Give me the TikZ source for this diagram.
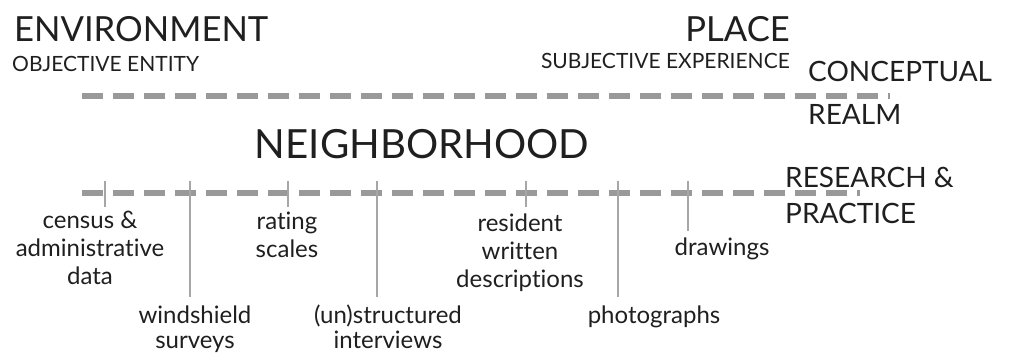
\documentclass[tikz,border=0pt]{standalone}
\usepackage{fontspec}
\setmainfont{Lato}[Ligatures=NoCommon]
\begin{document}
\begin{tikzpicture}[x=1pt,y=-1pt,
  txt/.style={inner sep=0pt,text=black!88},
  lbl/.style={txt,anchor=base,align=center,font=\fontsize{24}{28}\selectfont},
  lowlbl/.style={lbl,font=\fontsize{24}{25}\selectfont},
  realm/.style={txt,anchor=base west,align=left,font=\fontsize{28}{36}\selectfont},
  dashline/.style={draw=black!40,line width=5.5pt,dash pattern=on 21pt off 10pt},
  tick/.style={draw=black!35,line width=1.6pt}]
\useasboundingbox (0,0) rectangle (1009,353);

% headings
\node[txt,anchor=base west,font=\fontsize{34.6}{34}\selectfont] (env) at (14,42) {ENVIRONMENT};
\node[txt,anchor=base west,font=\fontsize{21}{20}\selectfont] (obj) at (12,71) {OBJECTIVE ENTITY};
\node[txt,anchor=base east,font=\fontsize{34.6}{34}\selectfont] (place) at (790,42) {PLACE};
\node[txt,anchor=base east,font=\fontsize{21}{20}\selectfont] (subj) at (790,68) {SUBJECTIVE EXPERIENCE};
\node[txt,anchor=base,font=\fontsize{40.2}{39}\selectfont] (nbh) at (422,158) {NEIGHBORHOOD};

% realm labels
\node[realm,font=\fontsize{28}{43}\selectfont] (conc) at (808,124) {CONCEPTUAL\\REALM};
\node[realm] (res) at (785,223) {RESEARCH \&\\PRACTICE};

% dashed axes
\coordinate (c0) at (82,96);
\coordinate (c1) at (890,96);
\coordinate (r0) at (82,193);
\coordinate (r1) at (860,193);
\draw[dashline] (c0) -- (c1);
\draw[dashline] (r0) -- (r1);

% method labels (anchored at the baseline of their last line)
\node[lbl] (census) at (90,284) {census \&\\administrative\\data};
\node[lowlbl] (wind) at (195,348) {windshield\\surveys};
\node[lbl] (rating) at (287,257) {rating\\scales};
\node[lowlbl] (inter) at (388,348) {(un)structured\\interviews};
\node[lbl] (resid) at (520,287) {resident\\written\\descriptions};
\node[lbl] (photo) at (654,323) {photographs};
\node[lbl] (draw) at (722,255) {drawings};

% tick marks from the research axis
\coordinate (t1) at (105,181); \coordinate (b1) at (105,207);
\coordinate (t2) at (190,181); \coordinate (b2) at (190,297);
\coordinate (t3) at (288,181); \coordinate (b3) at (288,207);
\coordinate (t4) at (377,181); \coordinate (b4) at (377,297);
\coordinate (t5) at (526,181); \coordinate (b5) at (526,207);
\coordinate (t6) at (618,181); \coordinate (b6) at (618,297);
\coordinate (t7) at (688,181); \coordinate (b7) at (688,231);
\foreach \i in {1,...,7} \draw[tick] (t\i) -- (b\i);
\end{tikzpicture}
\end{document}
